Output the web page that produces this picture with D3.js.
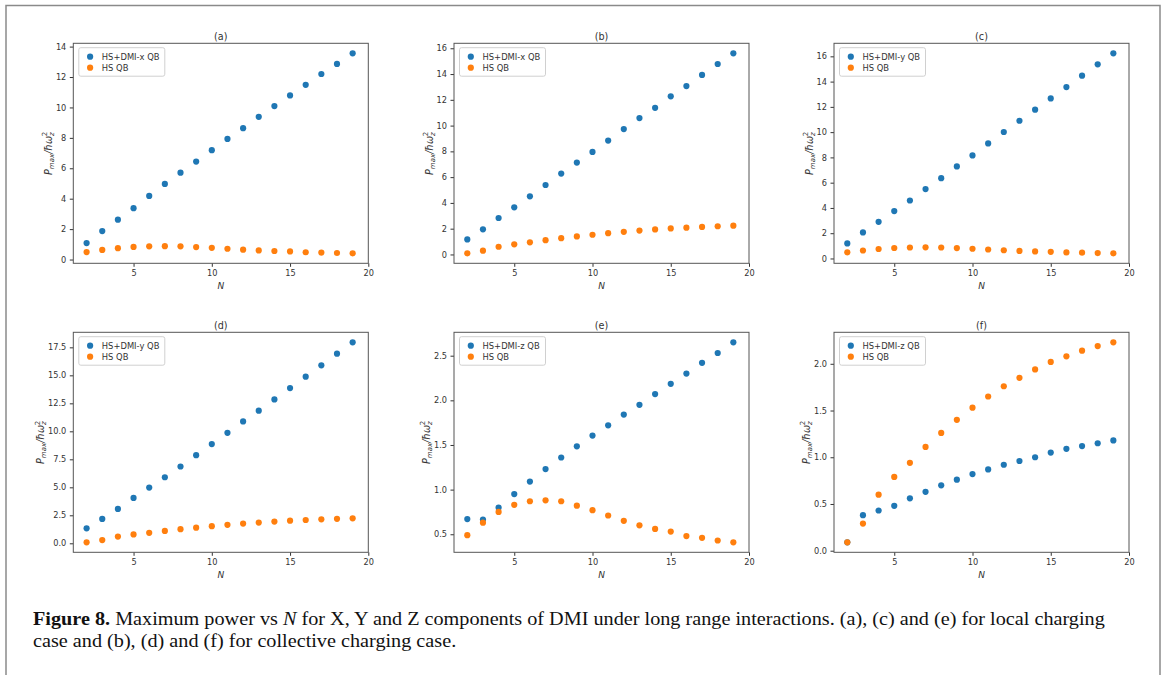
<!DOCTYPE html>
<html>
<head>
<meta charset="utf-8">
<script src="https://cdn.jsdelivr.net/npm/d3@7"></script>
<style>
  body { margin: 0; background: #fff; }
  svg { display: block; }
</style>
</head>
<body>
<div id="chart"></div>
<script>
const N = [2, 3, 4, 5, 6, 7, 8, 9, 10, 11, 12, 13, 14, 15, 16, 17, 18, 19];

// HS QB (local charging in a, c, e; collective in b, d, f)
const hsLocal = [0.49, 0.63, 0.75, 0.83, 0.87, 0.88, 0.87, 0.82, 0.77, 0.71, 0.65, 0.60, 0.56, 0.53, 0.48, 0.46, 0.43, 0.41];
const hsCollective = [0.09, 0.29, 0.60, 0.79, 0.94, 1.11, 1.26, 1.40, 1.53, 1.65, 1.76, 1.85, 1.94, 2.02, 2.08, 2.14, 2.19, 2.23];

// HS+DMI QB
const dmiXLocal = [1.08, 1.87, 2.62, 3.38, 4.18, 4.97, 5.71, 6.44, 7.19, 7.93, 8.64, 9.38, 10.09, 10.79, 11.49, 12.20, 12.86, 13.56];
const dmiXCollective = [1.17, 1.95, 2.83, 3.66, 4.51, 5.39, 6.28, 7.13, 7.96, 8.84, 9.73, 10.58, 11.38, 12.27, 13.07, 13.93, 14.78, 15.61];
const dmiYLocal = [1.19, 2.06, 2.90, 3.75, 4.59, 5.49, 6.36, 7.29, 8.16, 9.11, 10.01, 10.90, 11.78, 12.67, 13.57, 14.47, 15.37, 16.24];
const dmiYCollective = [1.34, 2.18, 3.07, 4.05, 4.98, 5.90, 6.86, 7.87, 8.86, 9.87, 10.88, 11.84, 12.85, 13.86, 14.88, 15.89, 16.93, 17.95];
const dmiZLocal = [0.67, 0.665, 0.80, 0.95, 1.09, 1.23, 1.36, 1.485, 1.605, 1.72, 1.84, 1.95, 2.07, 2.185, 2.30, 2.42, 2.53, 2.65];
const dmiZCollective = [0.09, 0.38, 0.43, 0.48, 0.56, 0.63, 0.70, 0.76, 0.82, 0.87, 0.92, 0.96, 1.00, 1.05, 1.09, 1.12, 1.15, 1.18];

// tick labels
const xTicks = [5, 10, 15, 20];
const yTicksA = [0, 2, 4, 6, 8, 10, 12, 14];
const yTicksB = [0, 2, 4, 6, 8, 10, 12, 14, 16];
const yTicksD = [0, 2.5, 5, 7.5, 10, 12.5, 15, 17.5];
const yTicksE = [0.5, 1.0, 1.5, 2.0, 2.5];
const yTicksF = [0, 0.5, 1.0, 1.5, 2.0];

const titles = ["(a)", "(b)", "(c)", "(d)", "(e)", "(f)"];
const dmiLabels = ["HS+DMI-x QB", "HS+DMI-x QB", "HS+DMI-y QB", "HS+DMI-y QB", "HS+DMI-z QB", "HS+DMI-z QB"];
const hsLabel = "HS QB";

const captionBold = "Figure 8.";
const captionLine1 = " Maximum power vs ";
const captionLine1b = " for X, Y and Z components of DMI under long range interactions. (a), (c) and (e) for local charging";
const captionLine2 = "case and (b), (d) and (f) for collective charging case.";

const panels = [
  { blue: dmiXLocal, orange: hsLocal, ticks: yTicksA, fmt: d3.format("d") },
  { blue: dmiXCollective, orange: hsCollective, ticks: yTicksB, fmt: d3.format("d") },
  { blue: dmiYLocal, orange: hsLocal, ticks: yTicksB, fmt: d3.format("d") },
  { blue: dmiYCollective, orange: hsCollective, ticks: yTicksD, fmt: d3.format(".1f") },
  { blue: dmiZLocal, orange: hsLocal, ticks: yTicksE, fmt: d3.format(".1f") },
  { blue: dmiZCollective, orange: hsCollective, ticks: yTicksF, fmt: d3.format(".1f") },
];

const width = 1165;
const height = 675;
const colX = [73.3, 454, 834];
const rowY = [43.3, 332.3];
const pw = 295, ph = 220;
const blueColor = "#1f77b4", orangeColor = "#ff7f0e";
const font = "'DejaVu Sans', sans-serif";

const svg = d3.select("#chart")
  .append("svg")
  .attr("width", width)
  .attr("height", height);

// outer frame
svg.append("rect")
  .attr("x", 6).attr("y", 5.5)
  .attr("width", 1154).attr("height", 700)
  .attr("fill", "none")
  .attr("stroke", "#8a8a8a")
  .attr("stroke-width", 1.5);

panels.forEach((p, i) => {
  const g = svg.append("g")
    .attr("transform", `translate(${colX[i % 3]},${rowY[Math.floor(i / 3)]})`);

  const x = d3.scaleLinear().domain([1.15, 20]).range([0, pw]);
  const all = p.blue.concat(p.orange);
  const lo = d3.min(all), hi = d3.max(all);
  const pad = (hi - lo) * 0.05;
  const y = d3.scaleLinear().domain([lo - pad, hi + pad]).range([ph, 0]);

  // axes
  const xa = g.append("g")
    .attr("transform", `translate(0,${ph})`)
    .call(d3.axisBottom(x).tickValues(xTicks).tickSize(3.5).tickPadding(3));
  const ya = g.append("g")
    .call(d3.axisLeft(y).tickValues(p.ticks).tickFormat(p.fmt).tickSize(3.5).tickPadding(3.5));
  [xa, ya].forEach(a => {
    a.select(".domain").remove();
    a.selectAll("line").attr("stroke", "#333");
    a.selectAll("text").attr("fill", "#333").style("font-family", font).style("font-size", "8.2px");
  });

  g.append("rect")
    .attr("width", pw).attr("height", ph)
    .attr("fill", "none")
    .attr("stroke", "#555")
    .attr("stroke-width", 1);

  // points
  g.append("g").selectAll("circle")
    .data(p.blue)
    .enter().append("circle")
    .attr("cx", (d, j) => x(N[j]))
    .attr("cy", d => y(d))
    .attr("r", 3.1)
    .attr("fill", blueColor);
  g.append("g").selectAll("circle")
    .data(p.orange)
    .enter().append("circle")
    .attr("cx", (d, j) => x(N[j]))
    .attr("cy", d => y(d))
    .attr("r", 3.1)
    .attr("fill", orangeColor);

  // title
  g.append("text")
    .attr("x", pw / 2).attr("y", -3.5)
    .attr("text-anchor", "middle")
    .attr("fill", "#333")
    .style("font-family", font).style("font-size", "9.6px")
    .text(titles[i]);

  // x label
  g.append("text")
    .attr("x", pw / 2).attr("y", ph + 25.5)
    .attr("text-anchor", "middle")
    .attr("fill", "#333")
    .style("font-family", font).style("font-size", "9px").style("font-style", "italic")
    .text("N");

  // y label, placed left of the widest tick label
  let maxW = 0;
  ya.selectAll("text").each(function () { maxW = Math.max(maxW, this.getBBox().width); });
  const lx = -(3.5 + 3.5 + maxW + 4);
  const yl = g.append("text")
    .attr("transform", `translate(${lx},${ph / 2}) rotate(-90)`)
    .attr("text-anchor", "middle")
    .attr("fill", "#333")
    .style("font-family", font).style("font-size", "9.6px").style("font-style", "italic");
  yl.append("tspan").text("P");
  yl.append("tspan").attr("dy", 2).style("font-size", "7px").text("max");
  yl.append("tspan").attr("dy", -2).text("/ħω");
  yl.append("tspan").attr("dy", 2).style("font-size", "7px").text("z");
  yl.append("tspan").attr("dx", -3.9).attr("dy", -6.5).style("font-size", "7px").style("font-style", "normal").text("2");

  // legend
  const lg = g.append("g").attr("transform", "translate(5.5,4.4)");
  lg.append("rect")
    .attr("width", 86).attr("height", 28.5)
    .attr("rx", 2)
    .attr("fill", "#fff").attr("fill-opacity", 0.8)
    .attr("stroke", "#d0d0d0");
  [[dmiLabels[i], blueColor], [hsLabel, orangeColor]].forEach(([t, c], k) => {
    lg.append("circle").attr("cx", 11.3).attr("cy", 9 + k * 11).attr("r", 3.1).attr("fill", c);
    lg.append("text")
      .attr("x", 23).attr("y", 9 + k * 11).attr("dy", "0.35em")
      .attr("fill", "#333")
      .style("font-family", font).style("font-size", "8.4px")
      .text(t);
  });
});

// caption
const cap = svg.append("g").attr("transform", "translate(33,0)");
const capFont = "'Liberation Serif', 'Times New Roman', serif";
const l1 = cap.append("text")
  .attr("y", 625)
  .style("font-family", capFont).style("font-size", "18px").attr("fill", "#111");
l1.append("tspan").style("font-weight", "bold").text(captionBold);
l1.append("tspan").text(captionLine1);
l1.append("tspan").style("font-style", "italic").text("N");
l1.append("tspan").text(captionLine1b);
const l2 = cap.append("text")
  .attr("y", 647)
  .style("font-family", capFont).style("font-size", "18px").attr("fill", "#111")
  .text(captionLine2);
// squeeze the caption horizontally to the journal line width
const natural = l1.node().getComputedTextLength();
const sx = 1073 / natural;
l1.attr("transform", `scale(${sx},1)`);
l2.attr("transform", `scale(${sx},1)`);
</script>
</body>
</html>
